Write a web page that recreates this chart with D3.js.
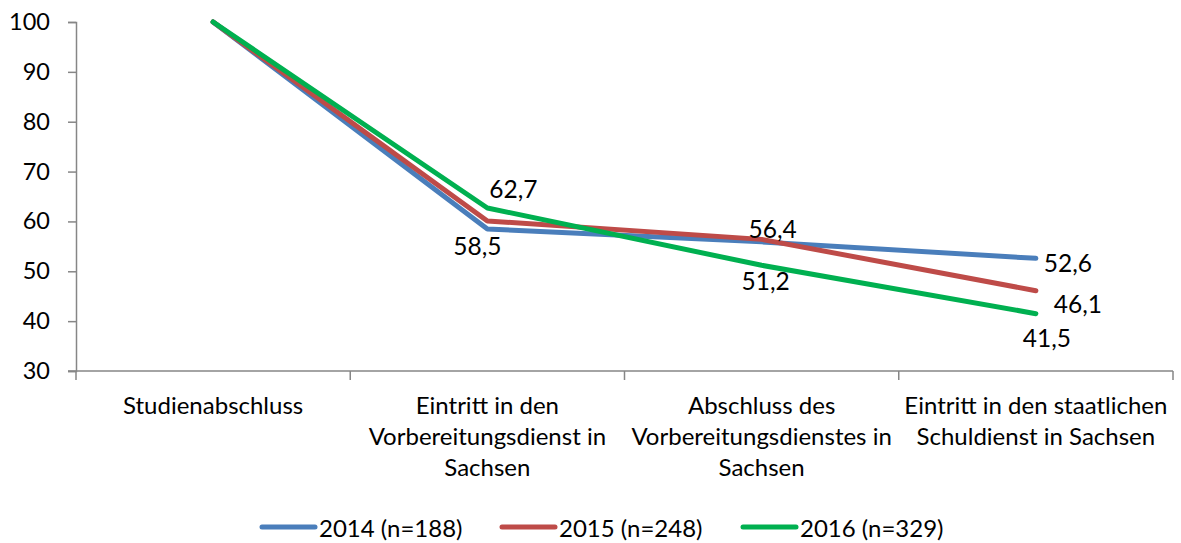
<!DOCTYPE html>
<html><head><meta charset="utf-8">
<script src="https://cdn.jsdelivr.net/npm/d3@7"></script>
<style>body{margin:0;background:#fff}svg{display:block}text{font-family:Lato,"Open Sans",sans-serif;fill:#000}</style>
</head><body><svg id="c" width="1181" height="543"></svg>
<script>
const categories = [
  ["Studienabschluss"],
  ["Eintritt in den", "Vorbereitungsdienst in", "Sachsen"],
  ["Abschluss des", "Vorbereitungsdienstes in", "Sachsen"],
  ["Eintritt in den staatlichen", "Schuldienst in Sachsen"]
];
const seriesNames = ["2014 (n=188)", "2015 (n=248)", "2016 (n=329)"];
const values2014 = [100, 58.5, 55.9, 52.6];
const values2015 = [100, 60.1, 56.4, 46.1];
const values2016 = [100, 62.7, 51.2, 41.5];
// which points carry a visible data label (true = show)
const labels2014 = [false, true, false, true];
const labels2015 = [false, false, true, true];
const labels2016 = [false, true, true, true];
const yTicks = [30, 40, 50, 60, 70, 80, 90, 100];

const colors = ["#4A7EBB", "#BE4B48", "#00B050"];
// label offsets (pixels) relative to point, per series/point
const labelOffsets = [
  [null, [-10, 17], null, [32, 4]],
  [null, null, [11, -11], [42, 13]],
  [null, [26, -19], [4, 15], [11, 24]]
];

const series = [values2014, values2015, values2016];
const shows = [labels2014, labels2015, labels2016];
const svg = d3.select("#c");
const mLeft = 76, mRight = 1173, mTop = 22, mBottom = 371;
const x = d3.scaleBand().domain(d3.range(categories.length)).range([mLeft, mRight]).paddingInner(0).paddingOuter(0);
const y = d3.scaleLinear().domain([30, 100]).range([mBottom, mTop]);
const cx = i => x(i) + x.bandwidth() / 2;
const axisColor = "#868686";
const fs = 24;

// Y axis
const yAxis = svg.append("g").attr("transform", `translate(${mLeft},0)`)
  .call(d3.axisLeft(y).tickValues(yTicks).tickSize(8).tickPadding(18).tickFormat(d3.format("d")));
yAxis.select(".domain").attr("stroke", axisColor).attr("stroke-width", 1.5);
yAxis.selectAll(".tick line").attr("stroke", axisColor).attr("stroke-width", 1.5);
yAxis.selectAll(".tick text").attr("font-size", 23.5).attr("font-family", "Lato").attr("fill", "#000");

// X axis line and boundary ticks
const gx = svg.append("g");
gx.append("line").attr("x1", mLeft - 8).attr("x2", mRight).attr("y1", mBottom).attr("y2", mBottom)
  .attr("stroke", axisColor).attr("stroke-width", 1.5);
const bounds = d3.range(categories.length + 1).map(i => i < categories.length ? x(i) : x(categories.length - 1) + x.bandwidth());
gx.selectAll("line.tk").data(bounds).join("line").attr("class", "tk")
  .attr("x1", d => d).attr("x2", d => d).attr("y1", mBottom).attr("y2", mBottom + 9)
  .attr("stroke", axisColor).attr("stroke-width", 1.5);
categories.forEach((lines, i) => {
  const t = gx.append("text").attr("text-anchor", "middle").attr("font-size", fs);
  lines.forEach((ln, j) => t.append("tspan").attr("x", cx(i)).attr("y", 414 + j * 31).text(ln));
});

// Lines
const line = d3.line().x((d, i) => cx(i)).y(d => y(d));
series.forEach((s, k) => {
  svg.append("path").datum(s).attr("d", line).attr("fill", "none")
    .attr("stroke", colors[k]).attr("stroke-width", 5).attr("stroke-linejoin", "round").attr("stroke-linecap", "round");
});

// Data labels
const fmt = v => d3.format(".1f")(v).replace(".", ",");
series.forEach((s, k) => {
  s.forEach((v, i) => {
    if (!shows[k][i]) return;
    const o = labelOffsets[k][i];
    svg.append("text").attr("x", cx(i) + o[0]).attr("y", y(v) + o[1])
      .attr("text-anchor", "middle").attr("dominant-baseline", "central").attr("font-size", 24.5).text(fmt(v));
  });
});

// Legend
const legendX = [262, 502, 743];
seriesNames.forEach((n, k) => {
  const g = svg.append("g").attr("transform", `translate(${legendX[k]},527)`);
  g.append("line").attr("x1", 0).attr("x2", 53).attr("stroke", colors[k]).attr("stroke-width", 5).attr("stroke-linecap", "round");
  g.append("text").attr("x", 57).attr("dominant-baseline", "central").attr("font-size", fs).text(n);
});
</script></body></html>
